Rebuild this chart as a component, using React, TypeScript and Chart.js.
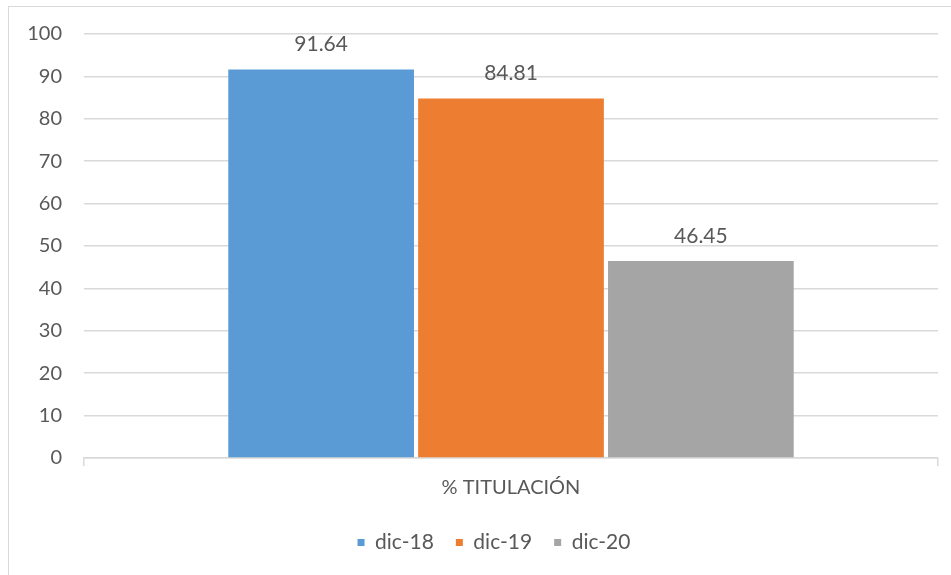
import React, { useEffect, useRef } from "react";
import { Chart, registerables } from "chart.js";

Chart.register(...registerables);

const categories = ["% TITULACIÓN"];
const seriesNames = ["dic-18", "dic-19", "dic-20"];
const seriesValues = [[91.64], [84.81], [46.45]];
const seriesColors = ["#5B9BD5", "#ED7D31", "#A5A5A5"];
const yTicks = { min: 0, max: 100, step: 10 };

const TEXT = "#595959";
const GRID = "#d9d9d9";
const FONT = "Lato, 'Open Sans', sans-serif";

const valueLabels = {
  id: "valueLabels",
  afterDatasetsDraw(chart: any) {
    const ctx = chart.ctx;
    ctx.save();
    ctx.fillStyle = TEXT;
    ctx.font = `21px ${FONT}`;
    ctx.textAlign = "center";
    ctx.textBaseline = "middle";
    chart.data.datasets.forEach((ds: any, i: number) => {
      const meta = chart.getDatasetMeta(i);
      meta.data.forEach((bar: any, j: number) => {
        ctx.fillText(Number(ds.data[j]).toFixed(2), bar.x, bar.y - 25);
      });
    });
    ctx.restore();
  },
};

// Excel centres the legend on a slightly wider frame: shift the legend box's left edge.
const legendShift = {
  id: "legendShift",
  afterLayout(chart: any) {
    if (chart.legend) chart.legend.left += 50;
  },
};

export default function App() {
  const ref = useRef<HTMLCanvasElement>(null);
  useEffect(() => {
    if (!ref.current) return;
    const chart = new Chart(ref.current, {
      type: "bar",
      data: {
        labels: categories,
        datasets: seriesNames.map((name, i) => ({
          label: name,
          data: seriesValues[i],
          backgroundColor: seriesColors[i],
          borderWidth: 0,
          categoryPercentage: 0.667,
          barPercentage: 0.978,
        })),
      },
      options: {
        animation: false,
        responsive: false,
        maintainAspectRatio: false,
        layout: { padding: { left: 0, right: 13, top: 34, bottom: 12 } },
        plugins: {
          tooltip: { enabled: false },
          legend: {
            position: "bottom",
            labels: {
              color: TEXT,
              font: { family: FONT, size: 21 },
              boxWidth: 7,
              boxHeight: 7,
              padding: 22,
            },
          },
        },
        scales: {
          x: {
            grid: {
              drawOnChartArea: false,
              drawTicks: true,
              tickLength: 8,
              color: GRID,
              lineWidth: 1.5,
            },
            border: { display: true, color: GRID, width: 1.5 },
            ticks: { color: TEXT, font: { family: FONT, size: 20 }, padding: 10 },
          },
          y: {
            min: yTicks.min,
            max: yTicks.max,
            ticks: {
              stepSize: yTicks.step,
              color: TEXT,
              font: { family: FONT, size: 20 },
              padding: 22,
            },
            grid: { color: GRID, lineWidth: 1.5, drawTicks: false },
            border: { display: false },
            afterFit: (scale: any) => {
              scale.width = 84;
            },
          },
        },
      },
      plugins: [valueLabels, legendShift],
    });
    return () => chart.destroy();
  }, []);

  return (
    <div
      style={{
        position: "fixed",
        left: 0,
        top: 0,
        width: 951,
        height: 575,
        overflow: "hidden",
        background: "#fff",
      }}
    >
      <div
        style={{
          position: "absolute",
          left: 8,
          top: 6,
          width: 1000,
          height: 700,
          border: "1.5px solid #d9d9d9",
          boxSizing: "border-box",
        }}
      />
      <canvas
        ref={ref}
        width={951}
        height={575}
        style={{ position: "absolute", left: 0, top: 0, width: 951, height: 575 }}
      />
    </div>
  );
}
